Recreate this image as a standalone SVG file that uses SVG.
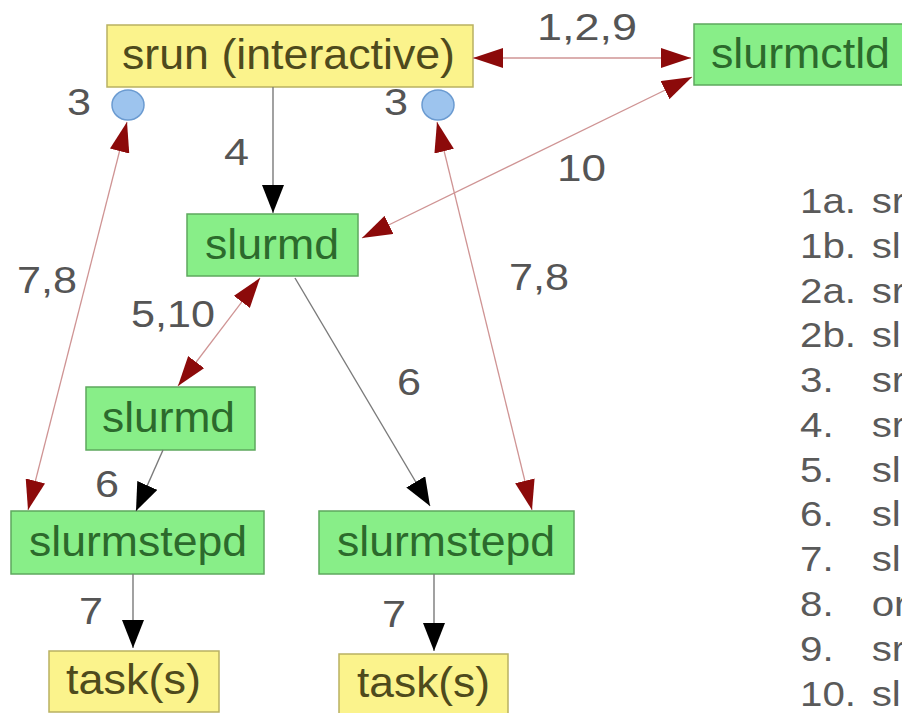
<svg xmlns="http://www.w3.org/2000/svg" width="902" height="713" viewBox="0 0 902 713">
  <style>
    .bg { fill: #ffffff; }
    .green { fill: #88ee88; stroke: #5ea85e; stroke-width: 1.5; }
    .yellow { fill: #fbf38c; stroke: #b9b162; stroke-width: 1.5; }
    .port { fill: #9dc4ee; stroke: #6b9bd1; stroke-width: 1.5; }
    .ntext { font-family: "Liberation Sans", Arial, sans-serif; font-size: 42px; }
    .gtext { fill: #2c6a2c; }
    .ytext { fill: #4e4a1c; }
    .label { font-family: "Liberation Sans", Arial, sans-serif; font-size: 37px; fill: #555555; }
    .legend { font-family: "Liberation Sans", Arial, sans-serif; font-size: 36px; fill: #5a5a5a; }
    .blk { stroke: #7a7a7a; stroke-width: 1.4; fill: none; }
    .red { stroke: #cf9494; stroke-width: 1.3; fill: none; }
  </style>
  <defs>
    <marker id="headBlack" viewBox="0 0 28 22" refX="28" refY="11" markerWidth="28" markerHeight="22" markerUnits="userSpaceOnUse" orient="auto-start-reverse">
      <path d="M0,0 L28,11 L0,22 z" fill="#000000"/>
    </marker>
    <marker id="headRed" viewBox="0 0 30 20" refX="30" refY="10" markerWidth="30" markerHeight="20" markerUnits="userSpaceOnUse" orient="auto-start-reverse">
      <path d="M0,0 L30,10 L0,20 z" fill="#8c0a0a"/>
    </marker>
  </defs>

  <rect class="bg" x="0" y="0" width="902" height="713"/>

  <!-- nodes -->
  <g id="srun">
    <rect class="yellow" x="107" y="25" width="366" height="62"/>
    <text class="ntext ytext" x="122" y="69" textLength="333" lengthAdjust="spacingAndGlyphs">srun (interactive)</text>
  </g>
  <g id="port-left">
    <ellipse class="port" cx="128" cy="105" rx="16" ry="15"/>
  </g>
  <g id="port-right">
    <ellipse class="port" cx="438" cy="105" rx="16" ry="15"/>
  </g>
  <g id="slurmctld">
    <rect class="green" x="694" y="24" width="215" height="61"/>
    <text class="ntext gtext" x="711" y="68" textLength="179" lengthAdjust="spacingAndGlyphs">slurmctld</text>
  </g>
  <g id="slurmd-top">
    <rect class="green" x="187" y="214" width="171" height="62"/>
    <text class="ntext gtext" x="205" y="259" textLength="134" lengthAdjust="spacingAndGlyphs">slurmd</text>
  </g>
  <g id="slurmd-low">
    <rect class="green" x="86" y="387" width="169" height="63"/>
    <text class="ntext gtext" x="102" y="432" textLength="133" lengthAdjust="spacingAndGlyphs">slurmd</text>
  </g>
  <g id="slurmstepd-left">
    <rect class="green" x="11" y="511" width="253" height="63"/>
    <text class="ntext gtext" x="29" y="556" textLength="218" lengthAdjust="spacingAndGlyphs">slurmstepd</text>
  </g>
  <g id="slurmstepd-right">
    <rect class="green" x="319" y="511" width="255" height="63"/>
    <text class="ntext gtext" x="337" y="556" textLength="218" lengthAdjust="spacingAndGlyphs">slurmstepd</text>
  </g>
  <g id="task-left">
    <rect class="yellow" x="49" y="651" width="170" height="61"/>
    <text class="ntext ytext" x="66" y="694" textLength="135" lengthAdjust="spacingAndGlyphs">task(s)</text>
  </g>
  <g id="task-right">
    <rect class="yellow" x="339" y="654" width="169" height="60"/>
    <text class="ntext ytext" x="357" y="697" textLength="133" lengthAdjust="spacingAndGlyphs">task(s)</text>
  </g>

  <!-- connectors -->
  <g id="connectors">
    <line class="red" x1="473" y1="58" x2="691" y2="58" marker-start="url(#headRed)" marker-end="url(#headRed)"/>
    <line class="red" x1="362" y1="238" x2="692" y2="77" marker-start="url(#headRed)" marker-end="url(#headRed)"/>
    <line class="blk" x1="273" y1="87" x2="273" y2="213" marker-end="url(#headBlack)"/>
    <line class="red" x1="260" y1="278" x2="178" y2="386" marker-start="url(#headRed)" marker-end="url(#headRed)"/>
    <line class="blk" x1="295" y1="278" x2="430" y2="506" marker-end="url(#headBlack)"/>
    <line class="blk" x1="163" y1="450" x2="136" y2="511" marker-end="url(#headBlack)"/>
    <line class="red" x1="127" y1="122" x2="28" y2="510" marker-start="url(#headRed)" marker-end="url(#headRed)"/>
    <line class="red" x1="437" y1="122" x2="532" y2="510" marker-start="url(#headRed)" marker-end="url(#headRed)"/>
    <line class="blk" x1="133" y1="574" x2="133" y2="648" marker-end="url(#headBlack)"/>
    <line class="blk" x1="434" y1="574" x2="434" y2="651" marker-end="url(#headBlack)"/>
  </g>

  <!-- connector labels -->
  <g id="labels">
    <text class="label" x="537" y="40" textLength="100" lengthAdjust="spacingAndGlyphs">1,2,9</text>
    <text class="label" x="67" y="115" textLength="24" lengthAdjust="spacingAndGlyphs">3</text>
    <text class="label" x="384" y="115" textLength="24" lengthAdjust="spacingAndGlyphs">3</text>
    <text class="label" x="224" y="165" textLength="25" lengthAdjust="spacingAndGlyphs">4</text>
    <text class="label" x="557" y="181" textLength="49" lengthAdjust="spacingAndGlyphs">10</text>
    <text class="label" x="17" y="293" textLength="60" lengthAdjust="spacingAndGlyphs">7,8</text>
    <text class="label" x="131" y="327" textLength="84" lengthAdjust="spacingAndGlyphs">5,10</text>
    <text class="label" x="509" y="290" textLength="60" lengthAdjust="spacingAndGlyphs">7,8</text>
    <text class="label" x="397" y="395" textLength="24" lengthAdjust="spacingAndGlyphs">6</text>
    <text class="label" x="95" y="497" textLength="24" lengthAdjust="spacingAndGlyphs">6</text>
    <text class="label" x="79" y="624" textLength="24" lengthAdjust="spacingAndGlyphs">7</text>
    <text class="label" x="382" y="627" textLength="24" lengthAdjust="spacingAndGlyphs">7</text>
  </g>

  <!-- step legend, cut by the right edge -->
  <g id="legend" class="legend" transform="translate(800,0) scale(1.12,1)">
    <text x="0" y="213">1a.</text><text x="64" y="213">sr</text>
    <text x="0" y="258">1b.</text><text x="64" y="258">sl</text>
    <text x="0" y="303">2a.</text><text x="64" y="303">sr</text>
    <text x="0" y="347">2b.</text><text x="64" y="347">sl</text>
    <text x="0" y="392">3.</text><text x="64" y="392">sr</text>
    <text x="0" y="437">4.</text><text x="64" y="437">sr</text>
    <text x="0" y="482">5.</text><text x="64" y="482">sl</text>
    <text x="0" y="526">6.</text><text x="64" y="526">sl</text>
    <text x="0" y="571">7.</text><text x="64" y="571">sl</text>
    <text x="0" y="616">8.</text><text x="64" y="616">or</text>
    <text x="0" y="661">9.</text><text x="64" y="661">sr</text>
    <text x="0" y="706">10.</text><text x="64" y="706">sl</text>
  </g>
</svg>
